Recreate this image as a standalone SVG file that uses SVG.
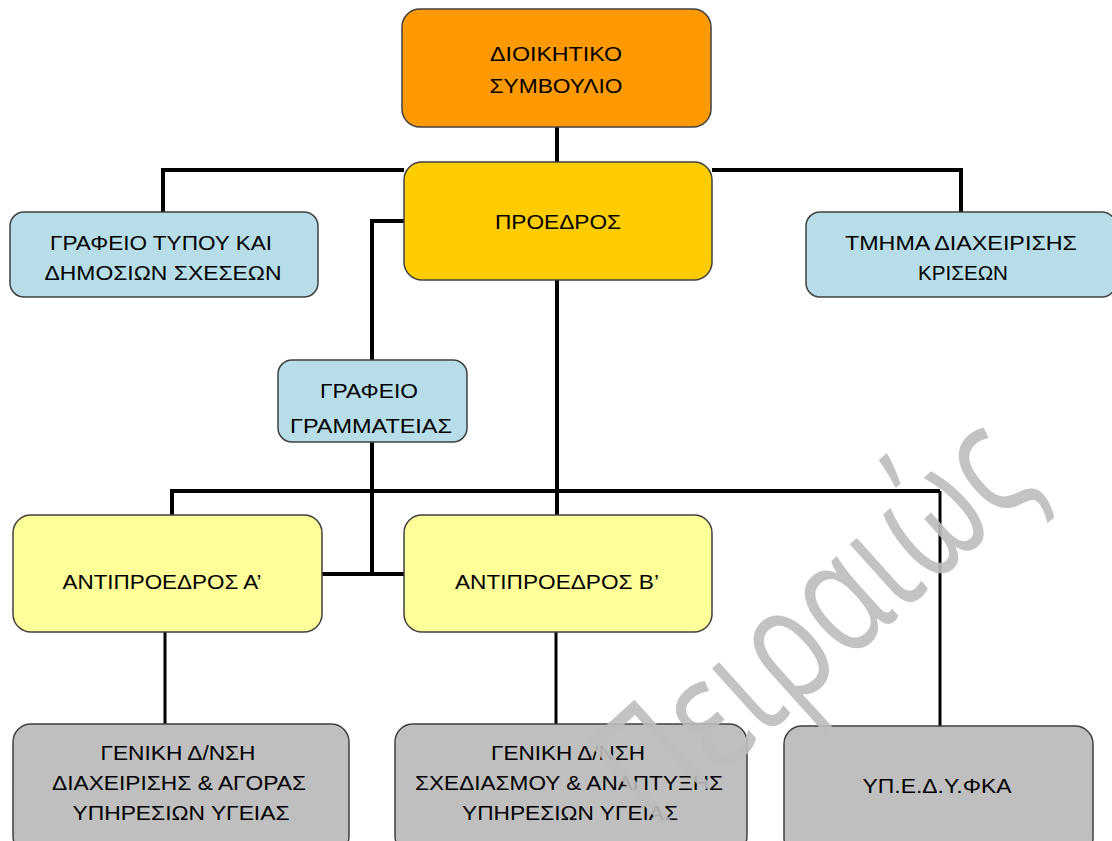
<svg xmlns="http://www.w3.org/2000/svg" width="1112" height="841" viewBox="0 0 1112 841">
<style>
.box{stroke:#404040;stroke-width:1.5}
.t{font-family:"Liberation Sans",Arial,sans-serif;font-size:21px;fill:#000;text-anchor:middle}
.c{stroke:#000;fill:none;stroke-width:4}
.c2{stroke:#000;fill:none;stroke-width:3}
.or{fill:#FF9900}.ye{fill:#FFCC00}.bl{fill:#B7DEE8}.ly{fill:#FFFF99}.gr{fill:#BFBFBF}
</style>
<rect width="1112" height="841" fill="#fff"/>
<g id="connectors">
<path class="c" d="M557 127 V162"/>
<path class="c" d="M163 213 V170 H404 M712 170 H961 V213"/>
<path class="c" d="M404 221 H372 V360 M372 442 V574 M322 574 H404"/>
<path class="c" d="M557 280 V515"/>
<path class="c" d="M172 515 V491 H940"/>
<path class="c2" d="M940 491 V726"/>
<path class="c2" d="M165 632 V724 M556 632 V724"/>
</g>
<g id="n-board"><rect class="box or" x="402" y="9" width="309" height="118" rx="18"/>
<text class="t" x="556" y="61" textLength="132" lengthAdjust="spacingAndGlyphs">ΔΙΟΙΚΗΤΙΚΟ</text>
<text class="t" x="556" y="93" textLength="133" lengthAdjust="spacingAndGlyphs">ΣΥΜΒΟΥΛΙΟ</text></g>
<g id="n-president"><rect class="box ye" x="404" y="162" width="308" height="118" rx="18"/>
<text class="t" x="558" y="229" textLength="126" lengthAdjust="spacingAndGlyphs">ΠΡΟΕΔΡΟΣ</text></g>
<g id="n-press"><rect class="box bl" x="10" y="212" width="308" height="85" rx="14"/>
<text class="t" x="161" y="250" textLength="222" lengthAdjust="spacingAndGlyphs">ΓΡΑΦΕΙΟ ΤΥΠΟΥ ΚΑΙ</text>
<text class="t" x="163" y="280" textLength="237" lengthAdjust="spacingAndGlyphs">ΔΗΜΟΣΙΩΝ ΣΧΕΣΕΩΝ</text></g>
<g id="n-crisis"><rect class="box bl" x="806" y="212" width="310" height="85" rx="14"/>
<text class="t" x="961" y="250" textLength="232" lengthAdjust="spacingAndGlyphs">ΤΜΗΜΑ ΔΙΑΧΕΙΡΙΣΗΣ</text>
<text class="t" x="963" y="280" textLength="90" lengthAdjust="spacingAndGlyphs">ΚΡΙΣΕΩΝ</text></g>
<g id="n-secretariat"><rect class="box bl" x="278" y="360" width="189" height="82" rx="14"/>
<text class="t" x="369" y="398" textLength="98" lengthAdjust="spacingAndGlyphs">ΓΡΑΦΕΙΟ</text>
<text class="t" x="371" y="433" textLength="162" lengthAdjust="spacingAndGlyphs">ΓΡΑΜΜΑΤΕΙΑΣ</text></g>
<g id="n-vpa"><rect class="box ly" x="13" y="515" width="309" height="117" rx="18"/>
<text class="t" x="162" y="589" textLength="199" lengthAdjust="spacingAndGlyphs">ΑΝΤΙΠΡΟΕΔΡΟΣ Α’</text></g>
<g id="n-vpb"><rect class="box ly" x="404" y="515" width="308" height="117" rx="18"/>
<text class="t" x="557" y="589" textLength="204" lengthAdjust="spacingAndGlyphs">ΑΝΤΙΠΡΟΕΔΡΟΣ Β’</text></g>
<g id="n-gd1"><rect class="box gr" x="13" y="724" width="336" height="130" rx="18"/>
<text class="t" x="178" y="760" textLength="155" lengthAdjust="spacingAndGlyphs">ΓΕΝΙΚΗ Δ/ΝΣΗ</text>
<text class="t" x="179" y="790" textLength="254" lengthAdjust="spacingAndGlyphs">ΔΙΑΧΕΙΡΙΣΗΣ &amp; ΑΓΟΡΑΣ</text>
<text class="t" x="181" y="820" textLength="217" lengthAdjust="spacingAndGlyphs">ΥΠΗΡΕΣΙΩΝ ΥΓΕΙΑΣ</text></g>
<g id="n-gd2"><rect class="box gr" x="395" y="724" width="352" height="130" rx="18"/>
<text class="t" x="568" y="760" textLength="154" lengthAdjust="spacingAndGlyphs">ΓΕΝΙΚΗ Δ/ΝΣΗ</text>
<text class="t" x="569" y="790" textLength="308" lengthAdjust="spacingAndGlyphs">ΣΧΕΔΙΑΣΜΟΥ &amp; ΑΝΑΠΤΥΞΗΣ</text>
<text class="t" x="570" y="820" textLength="216" lengthAdjust="spacingAndGlyphs">ΥΠΗΡΕΣΙΩΝ ΥΓΕΙΑΣ</text></g>
<g id="n-ypedy"><rect class="box gr" x="784" y="726" width="309" height="130" rx="18"/>
<text class="t" x="937" y="793" textLength="149" lengthAdjust="spacingAndGlyphs">ΥΠ.Ε.Δ.Υ.ΦΚΑ</text></g>
<g id="watermark"><text x="0" y="0" transform="translate(655,835) rotate(-42)" font-family="'Open Sans','DejaVu Sans',sans-serif" font-size="160" fill="#BDBDBD" fill-opacity="0.9" textLength="520" lengthAdjust="spacingAndGlyphs">Πειραιώς</text></g>
</svg>
